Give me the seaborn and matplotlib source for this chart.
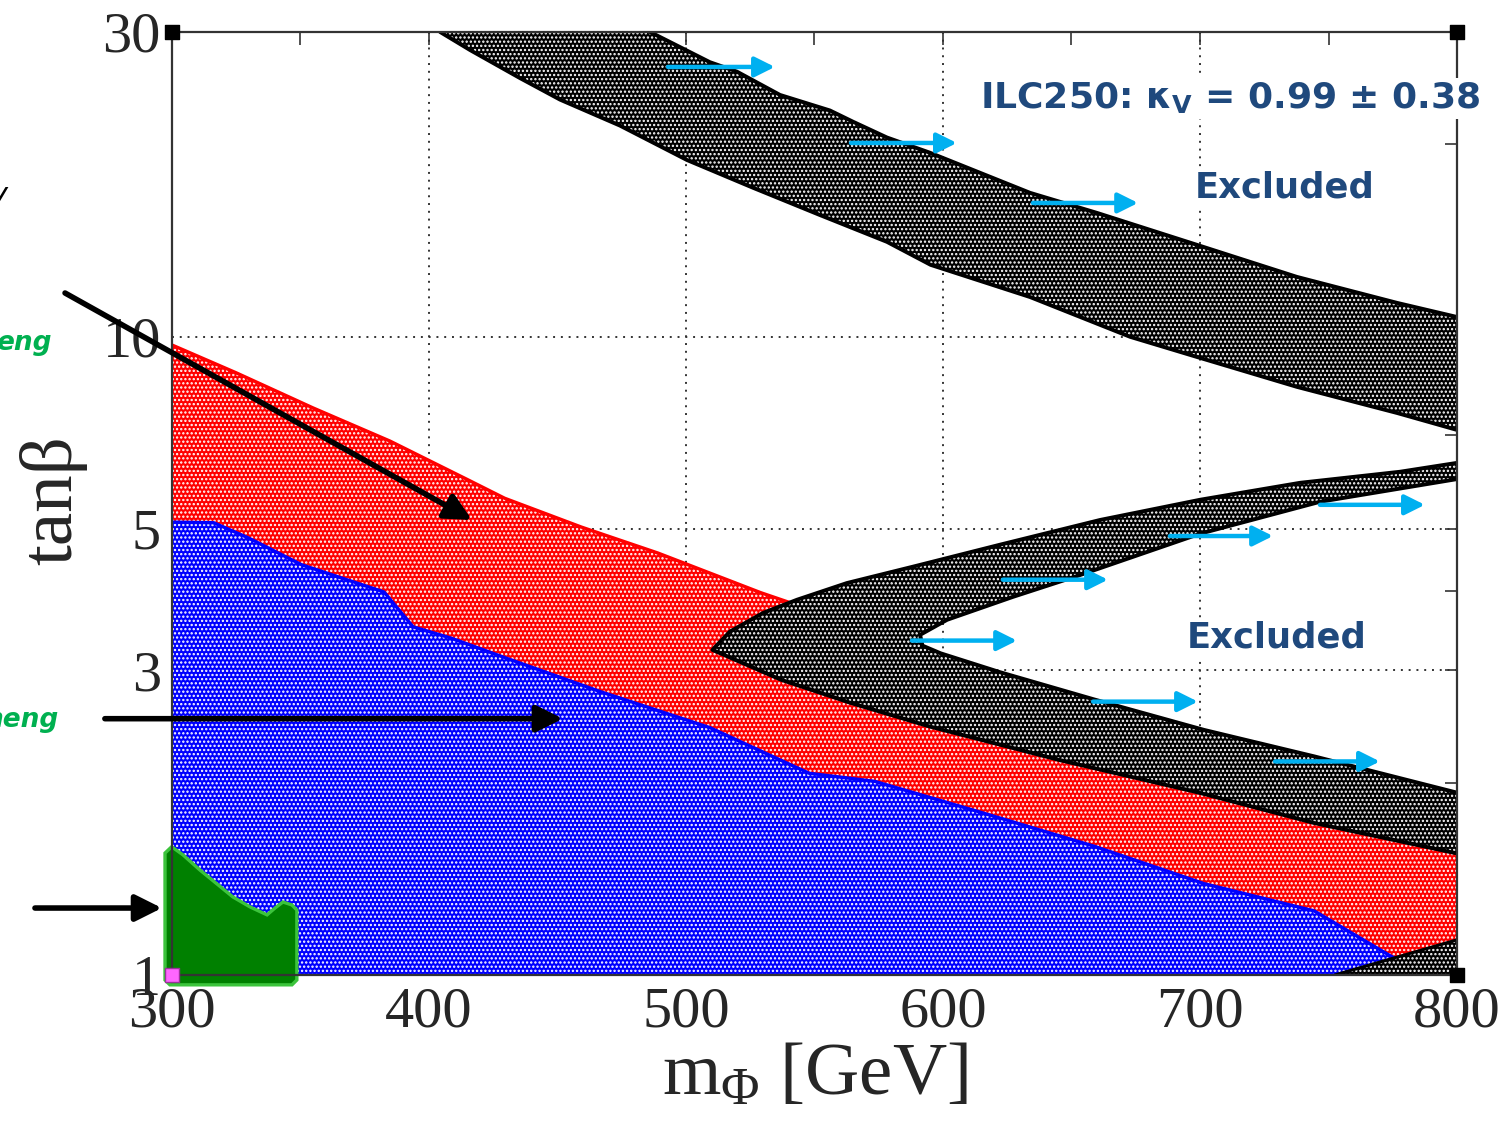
import numpy as np
import pandas as pd
import matplotlib
matplotlib.use("Agg")
import matplotlib.pyplot as plt
from matplotlib.ticker import FixedLocator, FixedFormatter, NullFormatter, MultipleLocator
import seaborn as sns

# ---- region boundaries (m_Phi [GeV], tan beta) ----
red_m = [300, 325.1, 354.9, 384.8, 414.6, 429.5, 459.3, 489.1, 529.1, 603.3, 659.0, 701.6, 744.4, 800]
red_tb = [9.70, 8.77, 7.73, 6.86, 5.98, 5.58, 5.03, 4.58, 3.97, 3.14, 2.68, 2.40, 2.16, 1.89]

blue_m = [300, 316.2, 329.6, 350.5, 382.5, 393.8, 408.6, 429.6, 466.5, 509.3, 547.9, 573.5,
          616.3, 659.0, 701.6, 744.4, 774.3, 789.5]
blue_tb = [5.12, 5.11, 4.84, 4.39, 3.98, 3.51, 3.37, 3.14, 2.78, 2.44, 2.07, 2.01,
           1.79, 1.59, 1.39, 1.26, 1.07, 1.0]

green_m = [297.3, 297.3, 299.9, 304.3, 310.9, 323.7, 330.4, 337.0, 340.1, 343.2, 346.7, 348.6,
           348.6, 346.7, 299.2]
green_tb = [0.982, 1.552, 1.588, 1.542, 1.46, 1.325, 1.278, 1.242, 1.273, 1.301, 1.287, 1.264,
            0.982, 0.965, 0.965]

# upper excluded band
band_lo_m = [404.3, 416.0, 435.4, 451.0, 474.3, 500.4, 526.1, 552.1, 578.2, 595.2, 633.9, 672.8,
             698.8, 737.7, 776.7, 800]
band_lo_tb = [30.0, 28.1, 25.4, 23.5, 21.4, 18.9, 17.1, 15.5, 14.07, 12.95, 11.53, 9.99,
              9.29, 8.34, 7.59, 7.14]
band_hi_m = [486.0, 509.3, 519.8, 536.6, 556.0, 565.0, 578.2, 595.0, 633.9, 659.9, 698.8, 737.7, 776.7, 800]
band_hi_tb = [30.0, 26.9, 26.0, 23.9, 22.6, 21.7, 20.5, 19.4, 16.79, 15.62, 13.92, 12.40, 11.29, 10.73]

# lower excluded wedge: outer and inner contours
wedge_out_m = [800, 777.8, 738.9, 700, 661.1, 622.2, 588.3, 562.6, 543.2, 530.0, 517.1, 510.3,
               537.0, 563.8, 594.8, 645.5, 699.6, 744.4, 800]
wedge_out_tb = [6.34, 6.14, 5.90, 5.55, 5.16, 4.72, 4.36, 4.11, 3.87, 3.69, 3.45, 3.23,
                2.90, 2.67, 2.45, 2.17, 1.93, 1.73, 1.55]
wedge_in_m = [800, 746.7, 700, 653.3, 627.2, 601.6, 591.1, 592.0, 599.1, 622.2, 659.0, 701.6, 744.4, 800]
wedge_in_tb = [5.98, 5.51, 4.91, 4.23, 3.91, 3.60, 3.41, 3.28, 3.19, 2.98, 2.70, 2.42, 2.20, 1.93]

# small excluded corner at bottom right
tri_m = [752.5, 800]
tri_tb = [1.0, 1.135]

# arrows: blue "excluded" arrows (start m, end m, tan beta)
blue_arr_m0 = [493.0, 564.2, 635.0, 746.7, 688.3, 623.3, 587.9, 658.4, 729.2]
blue_arr_m1 = [534.6, 605.4, 675.9, 787.5, 728.4, 664.2, 628.8, 699.2, 770.0]
blue_arr_tb = [26.44, 20.10, 16.19, 5.45, 4.87, 4.16, 3.34, 2.68, 2.16]

# black pointer arrows (tail m, tail tb, head m, head tb)
blk_arr_m0 = [258.4, 273.9, 246.7]
blk_arr_tb0 = [11.70, 2.52, 1.273]
blk_arr_m1 = [416.7, 452.1, 296.1]
blk_arr_tb1 = [5.16, 2.52, 1.273]

x_ticks = [300, 400, 500, 600, 700, 800]
y_ticks = [1, 3, 5, 10, 30]
y_minor = [2, 4, 6, 7, 8, 9, 20]

sns.set_style("white")
plt.rcParams["font.family"] = ["Liberation Serif", "DejaVu Sans"]
plt.rcParams["mathtext.fontset"] = "custom"
plt.rcParams["mathtext.rm"] = "Liberation Serif"
plt.rcParams["mathtext.it"] = "Liberation Serif:italic"
plt.rcParams["mathtext.bf"] = "DejaVu Sans:bold"
plt.rcParams["hatch.linewidth"] = 1.1

fig = plt.figure(figsize=(15.03, 11.24), dpi=100)
ax = fig.add_axes([0.1144, 0.1326, 0.8550, 0.8390])
ax.set_yscale("log")
ax.set_xlim(300, 800)
ax.set_ylim(1, 30)

# grid under everything
ax.set_axisbelow(True)
ax.grid(True, which="major", ls=(0, (1, 3)), lw=1.4, color="#333333")

dots = "...."
ax.fill_between(red_m, 1, red_tb, facecolor="#ff0000", edgecolor="white", lw=0, hatch=dots, zorder=1)
ax.fill_between(blue_m, 1, blue_tb, facecolor="#0000ff", edgecolor="white", lw=0, hatch=dots, zorder=1.1)

band_x = band_lo_m + band_hi_m[::-1]
band_y = band_lo_tb + band_hi_tb[::-1]
ax.fill(band_x, band_y, facecolor="black", edgecolor="white", lw=0, hatch=dots, zorder=1.2)

wedge_x = wedge_out_m + wedge_in_m[::-1]
wedge_y = wedge_out_tb + wedge_in_tb[::-1]
ax.fill(wedge_x, wedge_y, facecolor="black", edgecolor="white", lw=0, hatch=dots, zorder=1.2)
ax.fill_between(tri_m, 1, tri_tb, facecolor="black", edgecolor="white", lw=0, hatch=dots, zorder=1.2)

# contour lines
edges = [
    (red_m, red_tb, "#ff0000", 2.4, 1.05),
    (blue_m, blue_tb, "#0000ff", 2.4, 1.15),
    (band_lo_m, band_lo_tb, "black", 2.8, 1.3),
    (band_hi_m, band_hi_tb, "black", 2.8, 1.3),
    (wedge_out_m, wedge_out_tb, "black", 2.8, 1.3),
    (wedge_in_m, wedge_in_tb, "black", 2.8, 1.3),
    (tri_m, tri_tb, "black", 2.2, 1.3),
]
for xs, ys, c, w, z in edges:
    df = pd.DataFrame({"m": xs, "tb": ys})
    sns.lineplot(data=df, x="m", y="tb", ax=ax, color=c, lw=w, sort=False,
                 estimator=None, zorder=z)

# green region sticks out of the frame
ax.fill(green_m, green_tb, facecolor="#008000", edgecolor="#3cc43c", lw=2.4, zorder=1.4, clip_on=False)

# blue arrows
for m0, m1, tb in zip(blue_arr_m0, blue_arr_m1, blue_arr_tb):
    ax.annotate("", xy=(m1, tb), xytext=(m0, tb),
                arrowprops=dict(arrowstyle="-|>", color="#00b0f0", lw=3.2,
                                mutation_scale=30, shrinkA=0, shrinkB=0),
                zorder=5)

# black pointer arrows
for m0, t0, m1, t1 in zip(blk_arr_m0, blk_arr_tb0, blk_arr_m1, blk_arr_tb1):
    ax.annotate("", xy=(m1, t1), xytext=(m0, t0), annotation_clip=False,
                arrowprops=dict(arrowstyle="-|>", color="black", lw=4.0,
                                mutation_scale=40, shrinkA=0, shrinkB=0),
                zorder=6)

# corner markers
ax.scatter([300, 800, 800], [30, 30, 1], marker="s", s=95, color="black", clip_on=False, zorder=7)
ax.scatter([300], [1], marker="s", s=110, color="#ff66ff", edgecolor="#993399", lw=1, clip_on=False, zorder=7)

# axes styling
ax.xaxis.set_major_locator(FixedLocator(x_ticks))
ax.xaxis.set_minor_locator(MultipleLocator(50))
ax.yaxis.set_major_locator(FixedLocator(y_ticks))
ax.yaxis.set_major_formatter(FixedFormatter([str(v) for v in y_ticks]))
ax.yaxis.set_minor_locator(FixedLocator(y_minor))
ax.yaxis.set_minor_formatter(NullFormatter())
ax.tick_params(which="both", direction="in", top=True, right=True, length=9, width=1.2,
               color="#333333", labelsize=42, pad=8)
for sp in ax.spines.values():
    sp.set_linewidth(1.6)
    sp.set_color("#333333")
    sp.set_zorder(3)

ax.set_xlabel(r"m$_{\mathrm{\Phi}}$ [GeV]", fontsize=54)
ax.set_ylabel("tanβ", fontsize=54)
ax.xaxis.set_label_coords(0.5004, -0.072)
ax.yaxis.set_label_coords(-0.066, 0.504)

# annotations
navy = "#1f497d"
box = dict(facecolor="white", edgecolor="none", pad=2)
ax.text(1.018, 0.929, r"ILC250: κ$_\mathbf{V}$ = 0.99 ± 0.38", transform=ax.transAxes, ha="right",
        va="center", fontsize=26, fontweight="bold", color=navy, family="DejaVu Sans",
        bbox=box, zorder=8)
ax.text(0.866, 0.835, "Excluded", transform=ax.transAxes, ha="center", va="center",
        fontsize=25.5, fontweight="bold", color=navy, family="DejaVu Sans", bbox=box, zorder=8)
ax.text(0.860, 0.358, "Excluded", transform=ax.transAxes, ha="center", va="center",
        fontsize=25.5, fontweight="bold", color=navy, family="DejaVu Sans", bbox=box, zorder=8)

# clipped side notes on the left margin
fig.text(52 / 1503, 1 - 343 / 1124, "eng", ha="right", va="center", fontsize=19,
         fontweight="bold", style="italic", color="#00b050", family="DejaVu Sans")
fig.text(58 / 1503, 1 - 720 / 1124, "neng", ha="right", va="center", fontsize=19,
         fontweight="bold", style="italic", color="#00b050", family="DejaVu Sans")
fig.text(8 / 1503, 1 - 195 / 1124, "y", ha="right", va="center", fontsize=22,
         style="italic", color="black", family="DejaVu Sans")

fig.savefig("out.png", dpi=100, facecolor="white")
